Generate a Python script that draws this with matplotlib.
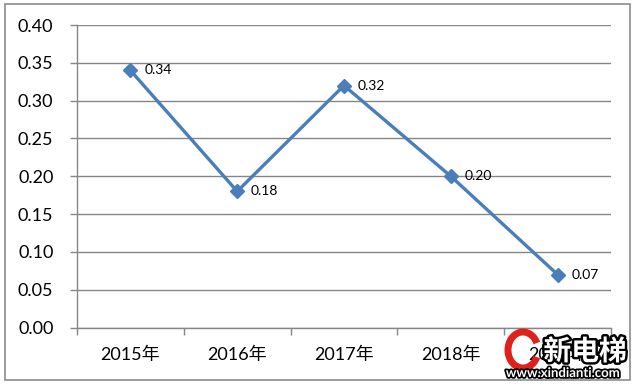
import matplotlib.pyplot as plt
import matplotlib.patheffects as pe
from matplotlib.patches import Rectangle, Arc

years = ['2015年', '2016年', '2017年', '2018年', '2019年']
values = [0.34, 0.18, 0.32, 0.20, 0.07]
labels = ['0.34', '0.18', '0.32', '0.20', '0.07']

plt.rcParams['font.family'] = ['Lato', 'Noto Sans CJK SC', 'DejaVu Sans']

fig = plt.figure(figsize=(6.38, 3.86), dpi=100)
fig.patch.set_facecolor('white')
# outer chart border
fig.patches.append(Rectangle((5 / 638, 6 / 386), 625 / 638, 376 / 386,
                             transform=fig.transFigure, fill=False,
                             edgecolor='#8c8c8c', linewidth=1.2))

ax = fig.add_axes([77 / 638, 1 - 327.5 / 386, 534 / 638, 302.5 / 386])
x = list(range(len(years)))
ax.plot(x, values, color='#4a7ebb', linewidth=2.4, marker='D',
        markersize=7, markerfacecolor='#4a7ebb', markeredgecolor='#4a7ebb')
for xi, v, lab in zip(x, values, labels):
    ax.annotate(lab, (xi, v), xytext=(10, 0), textcoords='offset points',
                va='center', ha='left', fontsize=10, color='black')

ax.set_xlim(-0.5, len(years) - 0.5)
ax.set_ylim(0, 0.40)
ax.set_yticks([i * 0.05 for i in range(9)])
ax.set_yticklabels(['%.2f' % (i * 0.05) for i in range(9)], fontsize=13)
ax.set_xticks(x)
ax.set_xticklabels(years, fontsize=13)
ax.set_xticks([i - 0.5 for i in range(len(years) + 1)], minor=True)
ax.tick_params(axis='x', which='major', length=0, pad=14)
ax.tick_params(axis='x', which='minor', length=5, color='#868686', width=1)
ax.tick_params(axis='y', length=5, color='#868686', width=1, pad=12)

ax.grid(axis='y', color='#868686', linewidth=1)
ax.set_axisbelow(True)
for s in ['top', 'right']:
    ax.spines[s].set_visible(False)
for s in ['left', 'bottom']:
    ax.spines[s].set_color('#868686')
    ax.spines[s].set_linewidth(1)

# watermark over the last category label
fig.patches.append(Arc((523 / 638, 1 - 350 / 386), 30 / 638, 36 / 386,
                       theta1=40, theta2=320, transform=fig.transFigure,
                       color='#e0201b', linewidth=5))
fig.text(585 / 638, 1 - 352 / 386, '新电梯', fontsize=20, fontweight='bold',
         color='white', ha='center', va='center',
         path_effects=[pe.withStroke(linewidth=3.5, foreground='black')])
fig.text(563 / 638, 1 - 373 / 386, 'www.xindianti.com', fontsize=9.5,
         fontweight='bold', color='white', ha='center', va='center',
         path_effects=[pe.withStroke(linewidth=2.5, foreground='black')])

fig.savefig('out.png', dpi=100)
